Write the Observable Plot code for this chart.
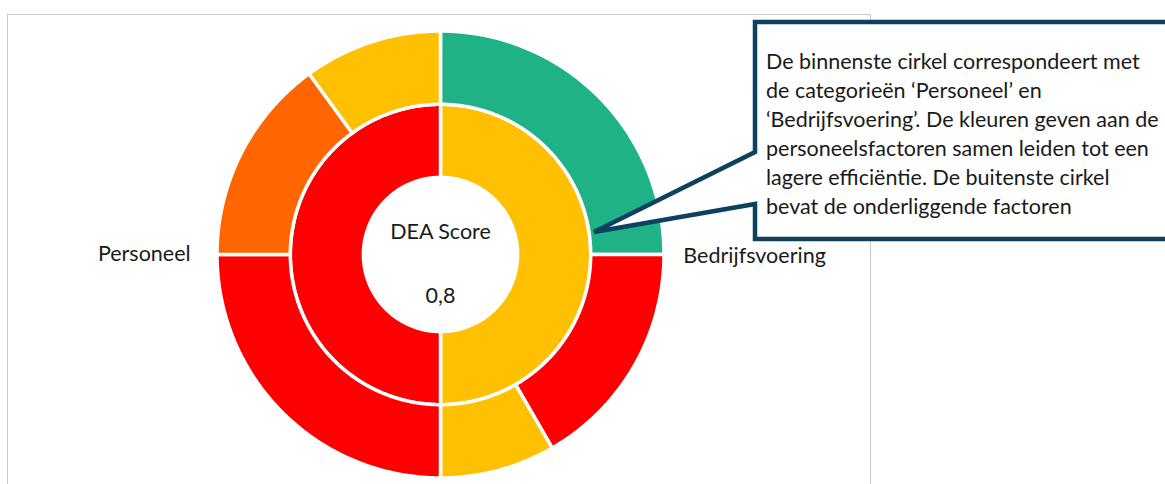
<!DOCTYPE html>
<html>
<head>
<meta charset="utf-8">
<script src="https://cdn.jsdelivr.net/npm/d3@7"></script>
<script src="https://cdn.jsdelivr.net/npm/@observablehq/plot@0.6"></script>
<style>
  html, body { margin: 0; padding: 0; background: #fff; }
  #wrap { position: relative; width: 1165px; height: 484px; overflow: hidden; font-family: Lato, "Open Sans", sans-serif; }
  #frame { position: absolute; left: 7px; top: 14px; width: 864px; height: 520px; border: 1.5px solid #c9c9c9; box-sizing: border-box; }
  #chart { position: absolute; left: 0; top: 0; }
  #callout { position: absolute; left: 0; top: 0; }
</style>
</head>
<body>
<div id="wrap">
  <div id="frame"></div>
  <div id="chart"></div>
  <svg id="callout" width="1165" height="484"></svg>
</div>
<script>
// ---- data ----
const categories = ["Bedrijfsvoering", "Personeel"];
const categoryStatus = ["matig", "slecht"];
const factorCategory = ["Bedrijfsvoering", "Bedrijfsvoering", "Bedrijfsvoering", "Personeel", "Personeel", "Personeel"];
const factorValues = [15, 10, 5, 15, 9, 6];
const factorStatus = ["goed", "slecht", "matig", "slecht", "zwak", "matig"];
const statusOrder = ["goed", "matig", "zwak", "slecht"];
const centerTitle = "DEA Score";
const centerValue = "0,8";
const calloutLines = [
  "De binnenste cirkel correspondeert met",
  "de categorieën ‘Personeel’ en",
  "‘Bedrijfsvoering’. De kleuren geven aan de",
  "personeelsfactoren samen leiden tot een",
  "lagere efficiëntie. De buitenste cirkel",
  "bevat de onderliggende factoren"
];

// ---- geometry built from the data ----
const total = d3.sum(factorValues);
const catValues = categories.map(c => d3.sum(factorValues.filter((v, i) => factorCategory[i] === c)));
const R = {outerOut: 1, outerIn: 0.672, innerOut: 0.672, innerIn: 0.345};

function sector(id, status, a0, a1, r0, r1) {
  const pts = [];
  const n = Math.max(2, Math.ceil((a1 - a0) / (Math.PI / 360)));
  for (let k = 0; k <= n; k++) {
    const a = a0 + (a1 - a0) * k / n;
    pts.push({id, status, x: r1 * Math.sin(a), y: r1 * Math.cos(a)});
  }
  for (let k = n; k >= 0; k--) {
    const a = a0 + (a1 - a0) * k / n;
    pts.push({id, status, x: r0 * Math.sin(a), y: r0 * Math.cos(a)});
  }
  return pts;
}

const rows = [];
let acc = 0;
categories.forEach((c, i) => {
  const a0 = acc / total * 2 * Math.PI;
  acc += catValues[i];
  const a1 = acc / total * 2 * Math.PI;
  rows.push(...sector("c" + i, categoryStatus[i], a0, a1, R.innerIn, R.innerOut));
});
acc = 0;
factorValues.forEach((v, i) => {
  const a0 = acc / total * 2 * Math.PI;
  acc += v;
  const a1 = acc / total * 2 * Math.PI;
  rows.push(...sector("f" + i, factorStatus[i], a0, a1, R.outerIn, R.outerOut));
});

// category labels at the middle angle of each inner slice, outside the outer ring
acc = 0;
const labelRows = categories.map((c, i) => {
  const mid = (acc + catValues[i] / 2) / total * 2 * Math.PI;
  acc += catValues[i];
  const s = Math.sin(mid);
  return {label: c, x: s * 1.1, y: 0, anchor: s > 0 ? "start" : "end"};
});

const FS = 21.5;
const chart = Plot.plot({
  width: 1165,
  height: 484,
  margin: 0,
  x: {domain: [-1, 1], range: [216.5, 663.5], axis: null},
  y: {domain: [-1, 1], range: [477.5, 30.5], axis: null},
  color: {domain: statusOrder, range: ["#1fb286", "#ffc000", "#ff6600", "#ff0000"]},
  style: {background: "transparent", fontFamily: "Lato, 'Open Sans', sans-serif"},
  marks: [
    Plot.line(rows, {x: "x", y: "y", z: "id", fill: "status", stroke: "white", strokeWidth: 3.5, curve: "linear-closed"}),
    Plot.text(labelRows.filter(d => d.anchor === "start"), {x: "x", y: "y", text: "label", textAnchor: "start", fontSize: FS, fill: "#1a1a1a", dx: -3, dy: 2}),
    Plot.text(labelRows.filter(d => d.anchor === "end"), {x: "x", y: "y", text: "label", textAnchor: "end", fontSize: FS, fill: "#1a1a1a", dx: -4}),
    Plot.text([centerTitle], {x: 0, y: 0.1, text: d => d, fontSize: FS, fill: "#1a1a1a"}),
    Plot.text([centerValue], {x: 0, y: -0.185, text: d => d, fontSize: FS, fill: "#1a1a1a"})
  ]
});
document.getElementById("chart").appendChild(chart);

// ---- callout (annotation) ----
const svg = d3.select("#callout");
svg.append("path")
  .attr("d", "M755,152 L755,22 L1175,22 L1175,239 L755,239 L755,204 L594,232 Z")
  .attr("fill", "white")
  .attr("stroke", "#0c4260")
  .attr("stroke-width", 4.5)
  .attr("stroke-linejoin", "miter");
svg.selectAll("text.cl").data(calloutLines).join("text")
  .attr("class", "cl")
  .attr("x", 766)
  .attr("y", (d, i) => 68.5 + i * 29)
  .attr("font-family", "Lato, 'Open Sans', sans-serif")
  .attr("font-size", FS)
  .attr("fill", "#1a1a1a")
  .text(d => d);
</script>
</body>
</html>
